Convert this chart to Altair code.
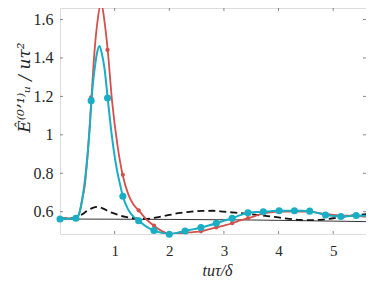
import altair as alt
import pandas as pd

# ---- data ----
cyan_x = [0.0, 0.1, 0.2, 0.29, 0.33, 0.37, 0.41, 0.45, 0.5, 0.54, 0.576, 0.6, 0.637, 0.68, 0.722,
          0.76, 0.813, 0.873, 0.93, 0.982, 1.04, 1.104, 1.15, 1.25, 1.35, 1.44, 1.58, 1.72, 1.86,
          2.0, 2.15, 2.29, 2.43, 2.58, 2.72, 2.86, 3.0, 3.15, 3.3, 3.44, 3.58, 3.72, 3.86, 4.01,
          4.15, 4.29, 4.43, 4.57, 4.72, 4.86, 5.0, 5.14, 5.28, 5.42, 5.56, 5.7]
cyan_y = [0.562, 0.563, 0.564, 0.566, 0.575, 0.61, 0.67, 0.75, 0.88, 1.02, 1.178, 1.26, 1.35, 1.43, 1.462,
          1.43, 1.348, 1.19, 1.04, 0.923, 0.82, 0.736, 0.68, 0.61, 0.573, 0.553, 0.522, 0.502, 0.49,
          0.483, 0.49, 0.5, 0.508, 0.518, 0.528, 0.54, 0.553, 0.566, 0.582, 0.595, 0.598, 0.6, 0.603, 0.605,
          0.605, 0.605, 0.605, 0.603, 0.593, 0.583, 0.578, 0.575, 0.577, 0.58, 0.579, 0.578]

red_x = [0.0, 0.29, 0.33, 0.37, 0.41, 0.455, 0.5, 0.54, 0.576, 0.631, 0.69, 0.753, 0.81, 0.873,
         0.952, 1.055, 1.146, 1.25, 1.35, 1.44, 1.58, 1.72, 1.86, 2.0, 2.15, 2.29, 2.43, 2.58, 2.72,
         2.86, 3.0, 3.15, 3.3, 3.44, 3.58, 3.72, 3.86, 4.01, 4.15, 4.29, 4.43, 4.57, 4.72, 4.86, 5.0,
         5.14, 5.28, 5.42, 5.56, 5.7]
red_y = [0.565, 0.567, 0.577, 0.61, 0.67, 0.74, 0.88, 1.03, 1.195, 1.433, 1.6, 1.688, 1.6, 1.442,
         1.178, 0.94, 0.792, 0.69, 0.635, 0.607, 0.56, 0.527, 0.5, 0.485, 0.487, 0.49, 0.494, 0.498, 0.508,
         0.518, 0.528, 0.54, 0.555, 0.566, 0.578, 0.591, 0.597, 0.6, 0.601, 0.6, 0.601, 0.6, 0.594, 0.588, 0.583,
         0.58, 0.579, 0.578, 0.575, 0.572]

mark_x = [0.0, 0.29, 0.57, 0.87, 1.15, 1.44, 1.72, 2.0, 2.29, 2.58, 2.86, 3.15, 3.44, 3.72, 4.01,
          4.29, 4.57, 4.86, 5.14, 5.42]
cyan_mark_y = [0.562, 0.566, 1.178, 1.192, 0.68, 0.553, 0.502, 0.483, 0.5, 0.518, 0.54, 0.566, 0.595,
               0.6, 0.605, 0.605, 0.603, 0.583, 0.575, 0.58]
red_mark_y = [0.565, 0.567, 1.195, 1.442, 0.792, 0.607, 0.527, 0.485, 0.49, 0.498, 0.518, 0.54, 0.566,
              0.591, 0.6, 0.601, 0.6, 0.588, 0.58, 0.578]

dash_x = [0.0, 0.3, 0.4, 0.5, 0.6, 0.68, 0.8, 0.9, 1.0, 1.2, 1.4, 1.6, 1.8, 2.0, 2.2, 2.4, 2.6, 2.8,
          3.0, 3.2, 3.4, 3.6, 3.8, 4.0, 4.2, 4.4, 4.6, 4.8, 5.0, 5.2, 5.4, 5.7]
dash_y = [0.565, 0.567, 0.585, 0.605, 0.62, 0.625, 0.615, 0.6, 0.59, 0.573, 0.565, 0.563, 0.572, 0.583,
          0.594, 0.6, 0.604, 0.605, 0.6, 0.595, 0.59, 0.583, 0.577, 0.57, 0.563, 0.557, 0.556, 0.559,
          0.566, 0.575, 0.582, 0.589]

solid_x = [0.0, 1.0, 2.0, 3.0, 3.5, 4.0, 4.5, 5.0, 5.7]
solid_y = [0.562, 0.561, 0.56, 0.558, 0.557, 0.555, 0.553, 0.551, 0.548]

x_ticks = [1, 2, 3, 4, 5]
y_ticks = [0.6, 0.8, 1.0, 1.2, 1.4, 1.6]

W, H = 306, 226
RED = "#D4514B"
CYAN = "#1AAEC5"
SERIF = "Liberation Serif"

xs = alt.Scale(domain=[0, 5.6], nice=False, zero=False)
ys = alt.Scale(domain=[0.484, 1.66], nice=False, zero=False)

xax = alt.Axis(values=x_ticks, format="d", grid=False, domain=False, ticks=False, tickSize=0,
               labelFont=SERIF, labelFontSize=15, labelColor="#262626", labelPadding=9,
               title="tuτ/δ", titleFont=SERIF, titleFontStyle="italic", titleFontWeight="normal",
               titleFontSize=16, titleColor="#262626", titleX=157, titleY=41, titleBaseline="alphabetic")
yax = alt.Axis(values=y_ticks, format="~g", grid=False, domain=False, ticks=False, tickSize=0,
               labelFont=SERIF, labelFontSize=16, labelColor="#262626", labelPadding=7,
               title="Ê⁽⁰ʼ¹⁾ᵤ / uτ²", titleFont="DejaVu Serif", titleFontStyle="italic",
               titleFontWeight="normal", titleFontSize=17, titleColor="#262626",
               titleX=-36, titleY=79, titleAngle=270, titleAlign="center", titleBaseline="middle")

cyan_df = pd.DataFrame({"x": cyan_x, "y": cyan_y})
red_df = pd.DataFrame({"x": red_x, "y": red_y})
dash_df = pd.DataFrame({"x": dash_x, "y": dash_y})
solid_df = pd.DataFrame({"x": solid_x, "y": solid_y})
cm_df = pd.DataFrame({"x": mark_x, "y": cyan_mark_y})
rm_df = pd.DataFrame({"x": mark_x, "y": red_mark_y})
xt_df = pd.DataFrame({"v": x_ticks})
yt_df = pd.DataFrame({"v": y_ticks})

solid = alt.Chart(solid_df).mark_line(color="#333333", strokeWidth=1, clip=True).encode(
    x=alt.X("x:Q", scale=xs, axis=xax), y=alt.Y("y:Q", scale=ys, axis=yax))
dash = alt.Chart(dash_df).mark_line(color="#111111", strokeWidth=1.8, strokeDash=[7, 4],
                                    interpolate="monotone", clip=True).encode(
    x=alt.X("x:Q", scale=xs), y=alt.Y("y:Q", scale=ys))
red = alt.Chart(red_df).mark_line(color=RED, strokeWidth=1.8, interpolate="monotone", clip=True).encode(
    x=alt.X("x:Q", scale=xs), y=alt.Y("y:Q", scale=ys))
redm = alt.Chart(rm_df).mark_circle(color=RED, size=18, opacity=1, clip=True).encode(
    x=alt.X("x:Q", scale=xs), y=alt.Y("y:Q", scale=ys))
cyan = alt.Chart(cyan_df).mark_line(color=CYAN, strokeWidth=2, interpolate="monotone", clip=True).encode(
    x=alt.X("x:Q", scale=xs), y=alt.Y("y:Q", scale=ys))
cyanm = alt.Chart(cm_df).mark_circle(color=CYAN, size=50, opacity=1).encode(
    x=alt.X("x:Q", scale=xs), y=alt.Y("y:Q", scale=ys))

TICK = "#8a8a8a"
yl = alt.Chart(yt_df).mark_rule(color=TICK, strokeWidth=1).encode(
    y=alt.Y("v:Q", scale=ys), x=alt.value(0), x2=alt.value(3))
yr = alt.Chart(yt_df).mark_rule(color=TICK, strokeWidth=1).encode(
    y=alt.Y("v:Q", scale=ys), x=alt.value(W - 3), x2=alt.value(W))
xb = alt.Chart(xt_df).mark_rule(color=TICK, strokeWidth=1).encode(
    x=alt.X("v:Q", scale=xs), y=alt.value(H - 3), y2=alt.value(H))
xtp = alt.Chart(xt_df).mark_rule(color=TICK, strokeWidth=1).encode(
    x=alt.X("v:Q", scale=xs), y=alt.value(0), y2=alt.value(3))

chart = alt.layer(solid, yl, yr, xb, xtp, dash, red, redm, cyan, cyanm).properties(
    width=W, height=H,
    autosize=alt.AutoSizeParams(type="none"),
    padding={"left": 52, "top": 0, "right": 0, "bottom": 43},
).configure_view(stroke="#9a9a9a", strokeWidth=1.2).configure(background="white")

chart.save("out.html", embed_options={"renderer": "svg", "actions": False})
